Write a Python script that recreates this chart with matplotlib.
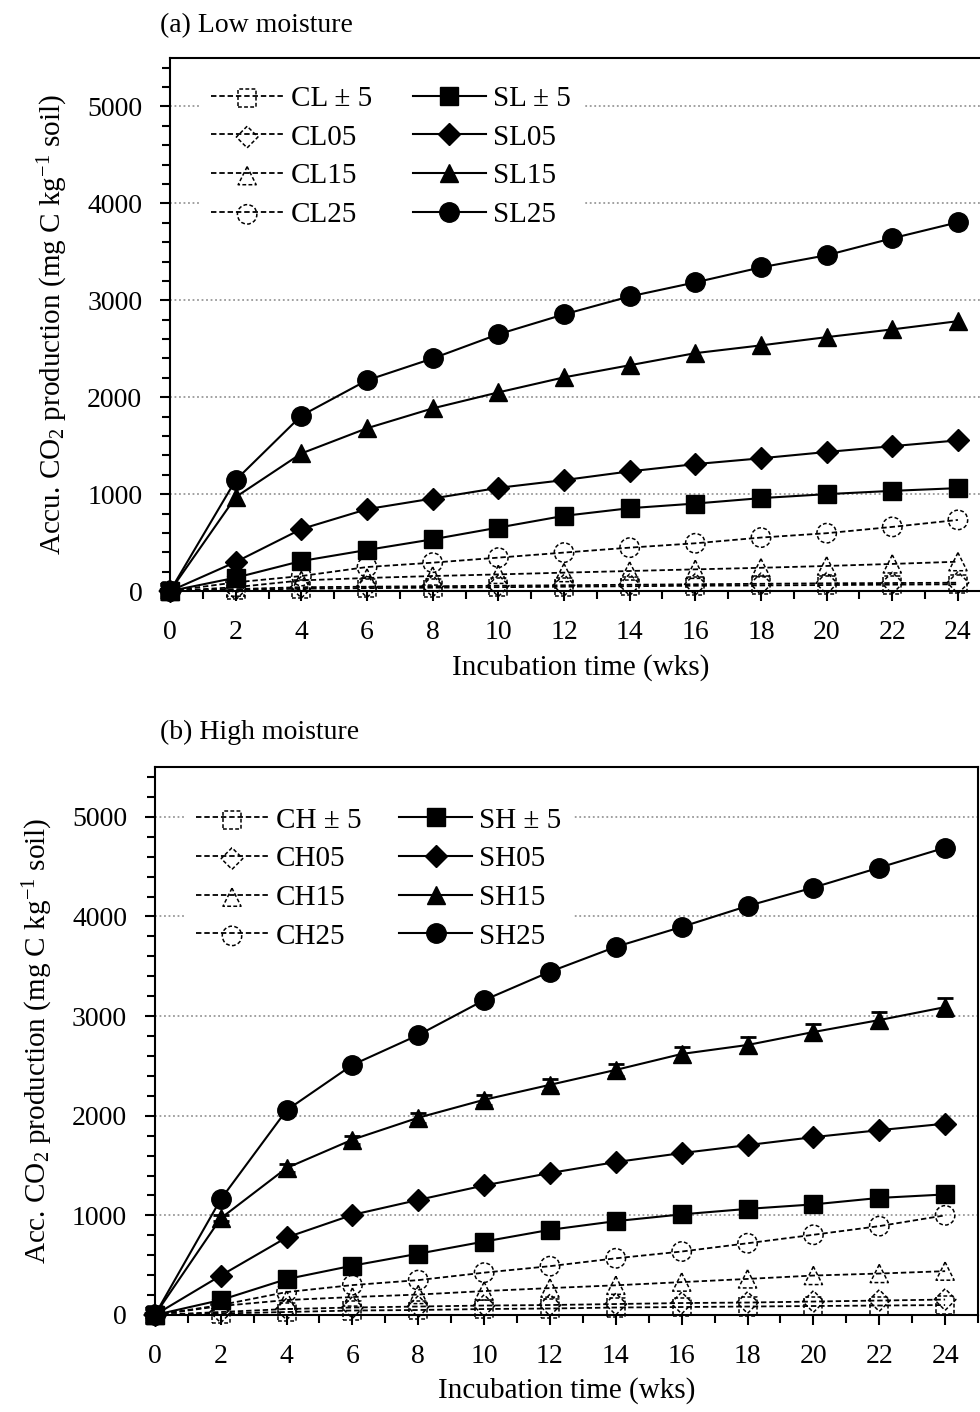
import matplotlib
matplotlib.use("Agg")
import matplotlib.pyplot as plt
from matplotlib.ticker import MultipleLocator
from matplotlib.legend_handler import HandlerTuple

plt.rcParams['font.family'] = ['Liberation Serif', 'DejaVu Serif']
plt.rcParams['mathtext.fontset'] = 'custom'
plt.rcParams['mathtext.rm'] = 'Liberation Serif'
plt.rcParams['mathtext.it'] = 'Liberation Serif:italic'

weeks = [0, 2, 4, 6, 8, 10, 12, 14, 16, 18, 20, 22, 24]

# (a) low moisture
CL_pm5 = [0, 10, 25, 30, 35, 40, 45, 50, 55, 58, 62, 66, 70]
CL05 = [0, 20, 40, 45, 50, 55, 60, 65, 70, 75, 80, 83, 86]
CL15 = [0, 40, 110, 135, 155, 172, 190, 207, 224, 240, 259, 280, 303]
CL25 = [0, 90, 155, 248, 293, 345, 397, 448, 493, 552, 597, 662, 734]
SL_pm5 = [0, 138, 310, 424, 534, 655, 776, 855, 903, 959, 1000, 1034, 1062]
SL05 = [0, 300, 640, 845, 955, 1065, 1145, 1235, 1310, 1370, 1435, 1495, 1555]
SL15 = [0, 970, 1420, 1680, 1885, 2050, 2205, 2330, 2455, 2535, 2620, 2700, 2785]
SL25 = [0, 1145, 1810, 2175, 2400, 2650, 2855, 3040, 3185, 3340, 3465, 3640, 3805]

# (b) high moisture
CH_pm5 = [0, 15, 30, 45, 50, 60, 65, 75, 80, 85, 90, 95, 100]
CH05 = [0, 30, 60, 75, 85, 95, 100, 110, 120, 125, 135, 145, 155]
CH15 = [0, 90, 150, 180, 205, 240, 270, 298, 330, 362, 396, 416, 440]
CH25 = [0, 100, 230, 300, 350, 425, 490, 569, 637, 720, 805, 892, 1000]
SH_pm5 = [0, 150, 360, 495, 615, 737, 855, 942, 1010, 1065, 1110, 1175, 1210]
SH05 = [0, 395, 778, 1005, 1155, 1300, 1425, 1535, 1625, 1705, 1785, 1855, 1920]
SH15 = [0, 970, 1475, 1760, 1980, 2160, 2310, 2460, 2620, 2710, 2840, 2960, 3090]
SH15_err = [0, 30, 40, 40, 50, 50, 60, 60, 70, 80, 80, 80, 90]
SH25 = [0, 1160, 2055, 2510, 2810, 3160, 3445, 3695, 3895, 4105, 4290, 4490, 4690]

markers = ['s', 'D', '^', 'o']
msizes = [13, 11, 13, 14]


def draw_panel(ax, open_series, solid_series, open_names, solid_names, leg_anchor, colsp, solid_err=None):
    handles, labels = [], []
    for i, ys in enumerate(open_series):
        ln, = ax.plot(weeks, ys, ls=(0, (3, 1.6)), lw=1.3, color='black',
                      clip_on=False, zorder=3)
        sc = ax.scatter(weeks, ys, s=msizes[i] ** 2, marker=markers[i],
                        facecolors='none', edgecolors='black', linewidths=1.1,
                        linestyles=(0, (2.5, 1.5)), clip_on=False, zorder=3)
        handles.append((ln, sc))
        labels.append(open_names[i])
    for i, ys in enumerate(solid_series):
        h, = ax.plot(weeks, ys, ls='-', lw=1.5, color='black',
                     marker=markers[i], ms=msizes[i], mfc='black', mec='black',
                     clip_on=False, zorder=4)
        if solid_err is not None and solid_err[i] is not None:
            ax.errorbar(weeks, ys, yerr=solid_err[i], fmt='none', ecolor='black',
                        elinewidth=1.3, capsize=6, capthick=2, zorder=4)
        handles.append(h)
        labels.append(solid_names[i])

    ax.set_xlim(0, 25)
    ax.set_ylim(0, 5500)
    ax.xaxis.set_minor_locator(MultipleLocator(1))
    ax.yaxis.set_major_locator(MultipleLocator(1000))
    ax.yaxis.set_minor_locator(MultipleLocator(200))
    ax.set_xticks(weeks)
    ax.tick_params(which='both', direction='out', width=1.5, labelsize=20)
    ax.tick_params(which='major', length=7)
    ax.tick_params(which='minor', length=6)
    ax.tick_params(axis='x', which='major', pad=14)
    ax.tick_params(axis='y', which='major', pad=13)
    for g in [1000, 2000, 3000, 4000, 5000]:
        ax.axhline(g, color='#999999', ls=(0, (1, 1.5)), lw=1.3, zorder=0)
    for s in ax.spines.values():
        s.set_linewidth(1.5)
    ax.set_xlabel('Incubation time (wks)', fontsize=21, labelpad=6)

    leg = ax.legend(handles, labels, ncol=2, loc='upper left', fontsize=21,
                    frameon=True, fancybox=False, edgecolor='none',
                    facecolor='white', framealpha=1, handlelength=2.5,
                    handletextpad=0.25, columnspacing=colsp, labelspacing=0.42,
                    borderaxespad=0.6, bbox_to_anchor=leg_anchor, scatterpoints=1,
                    handler_map={tuple: HandlerTuple(ndivide=1, pad=0)})
    leg.set_zorder(2)


fig = plt.figure(figsize=(9.8, 14.12), dpi=100)

ax1 = fig.add_axes([0.1735, 0.5814, 0.8375, 0.3775])
draw_panel(ax1, [CL_pm5, CL05, CL15, CL25], [SL_pm5, SL05, SL15, SL25],
           ['CL ± 5', 'CL05', 'CL15', 'CL25'], ['SL ± 5', 'SL05', 'SL15', 'SL25'],
           (0.014, 1.003), 1.4)
ax1.spines['right'].set_visible(False)
ax1.set_ylabel('Accu. CO$_2$ production (mg C kg$^{\\mathrm{-1}}$ soil)', fontsize=21, labelpad=12)
fig.text(0.163, 0.982, '(a) Low moisture', fontsize=20, ha='left', va='center')

ax2 = fig.add_axes([0.158, 0.0687, 0.84, 0.3881])
draw_panel(ax2, [CH_pm5, CH05, CH15, CH25], [SH_pm5, SH05, SH15, SH25],
           ['CH ± 5', 'CH05', 'CH15', 'CH25'], ['SH ± 5', 'SH05', 'SH15', 'SH25'],
           (0.014, 0.98), 1.3, solid_err=[None, None, SH15_err, None])
ax2.set_ylabel('Acc. CO$_2$ production (mg C kg$^{\\mathrm{-1}}$ soil)', fontsize=21, labelpad=12)
fig.text(0.163, 0.481, '(b) High moisture', fontsize=20, ha='left', va='center')

plt.savefig('out.png', dpi=100)
